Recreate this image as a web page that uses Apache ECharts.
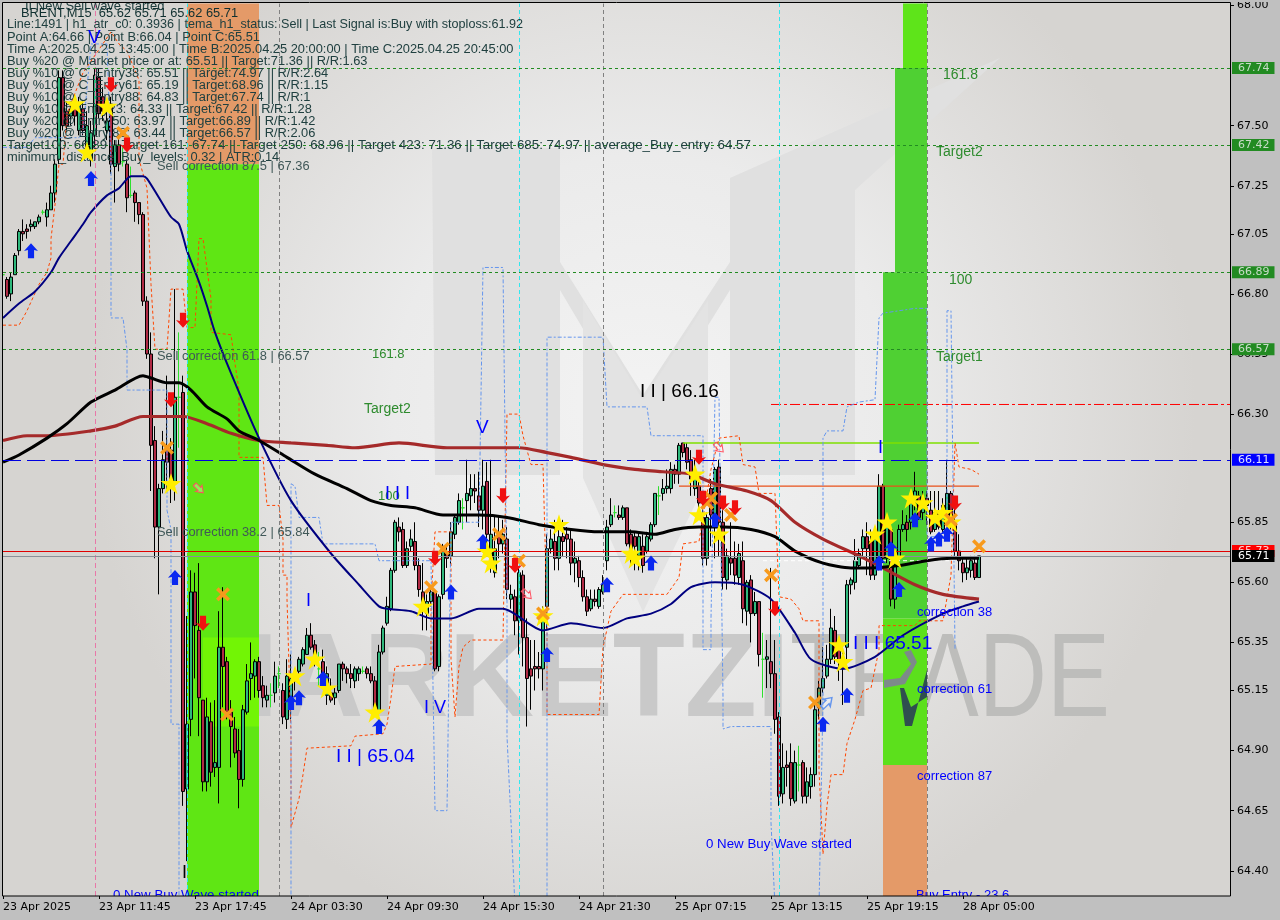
<!DOCTYPE html>
<html><head><meta charset="utf-8"><style>html,body{margin:0;padding:0;background:#c0c0c0}#c{width:1280px;height:920px}</style>
<script src="https://cdn.jsdelivr.net/npm/echarts@6/dist/echarts.min.js"></script></head><body><div id="c"></div>
<script>
const tickLabels=['23 Apr 2025','23 Apr 11:45','23 Apr 17:45','24 Apr 03:30','24 Apr 09:30','24 Apr 15:30','24 Apr 21:30','25 Apr 07:15','25 Apr 13:15','25 Apr 19:15','28 Apr 05:00'];
const priceTicks=[68.00,67.50,67.25,67.05,66.80,66.55,66.30,65.85,65.60,65.35,65.15,64.90,64.65,64.40];
// [open, close, low, high]
const candles=[
[66.88,66.88,66.87,66.91],[66.86,66.79,66.78,66.87],[66.80,66.87,66.77,66.89],[66.88,66.96,66.88,66.97],[66.98,67.06,66.96,67.07],
[67.06,67.05,67.02,67.11],[67.07,67.06,67.03,67.09],[67.08,67.09,67.06,67.11],[67.08,67.10,67.07,67.10],[67.10,67.12,67.09,67.13],
[67.14,67.14,67.13,67.15],[67.12,67.15,67.08,67.18],[67.15,67.22,67.15,67.25],[67.22,67.34,67.18,67.36],[67.36,67.70,67.34,67.73],
[67.70,67.50,67.48,67.73],[67.56,67.50,67.48,67.60],[67.54,67.57,67.50,67.60],[67.60,67.54,67.50,67.63],[67.48,67.59,67.46,67.62],
[67.57,67.48,67.46,67.60],[67.40,67.50,67.37,67.56],[67.36,67.47,67.33,67.52],[67.46,67.71,67.41,67.74],[67.70,67.55,67.53,67.74],
[67.62,67.56,67.52,67.66],[67.48,67.52,67.44,67.56],[67.59,67.34,67.30,67.62],[67.33,67.42,67.18,67.44],[67.42,67.34,67.31,67.46],
[67.35,67.35,67.33,67.41],[67.34,67.20,67.14,67.36],[67.21,67.21,67.20,67.33],[67.22,67.18,67.10,67.23],[67.18,67.13,67.09,67.18],
[67.13,66.77,66.75,67.14],[66.77,66.55,66.53,66.79],[66.55,66.17,65.98,66.64],[66.19,65.83,65.70,66.25],[65.83,65.99,65.55,66.01],
[65.99,66.11,65.97,66.23],[66.15,66.10,65.98,66.46],[66.15,66.00,65.93,66.20],[66.02,66.37,65.94,66.82],[66.37,66.37,66.16,66.64],
[66.39,64.73,64.67,66.46],[64.74,65.01,64.44,65.46],[65.03,65.56,64.96,65.65],[65.56,65.42,65.20,65.64],[65.40,65.12,64.96,65.68],
[65.11,64.77,64.73,65.11],[64.77,65.04,64.73,65.12],[65.02,64.81,64.75,65.10],[64.83,64.85,64.79,65.11],[64.83,65.33,64.68,65.48],
[65.33,65.25,65.08,65.58],[65.27,65.06,65.03,65.29],[65.06,65.00,64.83,65.11],[64.99,64.89,64.87,65.04],[64.90,64.78,64.66,64.99],
[64.78,65.07,64.75,65.09],[65.06,65.19,65.05,65.26],[65.20,65.22,65.11,65.35],[65.21,65.27,65.12,65.28],[65.27,65.15,65.12,65.29],
[65.17,65.12,65.08,65.21],[65.11,65.13,65.08,65.17],[65.13,65.13,65.08,65.18],[65.14,65.21,65.10,65.27],[65.22,65.22,65.16,65.25],
[65.15,65.04,65.01,65.18],[65.03,65.21,64.99,65.28],[65.09,65.20,65.03,65.30],[65.19,65.21,65.15,65.24],[65.23,65.28,65.20,65.29],
[65.26,65.32,65.25,65.33],[65.30,65.38,65.30,65.41],[65.38,65.33,65.32,65.43],[65.34,65.29,65.25,65.36],[65.24,65.24,65.17,65.31],
[65.27,65.22,65.17,65.32],[65.13,65.22,65.09,65.25],[65.14,65.11,65.10,65.20],[65.12,65.14,65.09,65.16],[65.15,65.26,65.14,65.26],
[65.26,65.24,65.19,65.27],[65.24,65.22,65.18,65.25],[65.22,65.20,65.16,65.26],[65.19,65.24,65.16,65.25],[65.22,65.24,65.19,65.25],
[65.23,65.23,65.22,65.25],[65.24,65.22,65.20,65.25],[65.22,65.19,65.18,65.25],[65.19,65.07,65.05,65.21],[65.06,65.31,65.03,65.34],
[65.31,65.41,65.30,65.42],[65.43,65.50,65.42,65.54],[65.49,65.65,65.48,65.66],[65.65,65.85,65.64,65.86],[65.83,65.81,65.77,65.87],
[65.82,65.67,65.66,65.85],[65.67,65.74,65.66,65.77],[65.75,65.78,65.73,65.82],[65.77,65.67,65.65,65.85],[65.67,65.57,65.54,65.70],
[65.56,65.51,65.40,65.68],[65.47,65.52,65.40,65.55],[65.52,65.56,65.50,65.58],[65.56,65.24,65.23,65.57],[65.25,65.54,65.23,65.55],
[65.55,65.75,65.53,65.76],[65.72,65.70,65.66,65.75],[65.71,65.81,65.67,65.85],[65.80,65.87,65.78,65.88],[65.85,65.94,65.84,65.97],
[65.91,65.91,65.82,65.95],[65.94,65.97,65.85,66.11],[65.96,65.99,65.90,66.05],[65.99,65.98,65.93,66.05],[65.96,65.90,65.83,66.06],
[65.90,66.00,65.82,66.11],[66.02,65.80,65.75,66.10],[65.70,65.80,65.64,66.11],[65.64,65.74,65.62,65.88],[65.80,65.76,65.70,65.88],
[65.76,65.80,65.72,65.86],[65.78,65.57,65.53,65.83],[65.53,65.55,65.49,65.59],[65.54,65.44,65.38,65.57],[65.44,65.64,65.30,65.66],
[65.63,65.37,65.25,65.65],[65.37,65.20,65.00,65.45],[65.24,65.21,65.07,65.36],[65.25,65.24,65.15,65.36],[65.25,65.24,65.20,65.31],
[65.24,65.45,65.15,65.50],[65.50,65.74,65.40,65.80],[65.74,65.78,65.72,65.82],[65.77,65.70,65.65,65.86],[65.70,65.79,65.65,65.84],
[65.79,65.77,65.71,65.86],[65.80,65.78,65.70,65.83],[65.78,65.68,65.63,65.82],[65.68,65.70,65.60,65.77],[65.69,65.62,65.58,65.71],
[65.62,65.54,65.52,65.65],[65.54,65.48,65.46,65.57],[65.49,65.53,65.48,65.57],[65.53,65.52,65.50,65.57],[65.50,65.57,65.49,65.58],
[65.56,65.59,65.55,65.63],[65.69,65.83,65.65,65.86],[65.84,65.88,65.83,65.95],[65.89,65.89,65.87,65.92],[65.88,65.87,65.86,65.92],
[65.87,65.91,65.86,65.92],[65.91,65.76,65.75,65.91],[65.80,65.73,65.67,65.82],[65.79,65.75,65.65,65.81],[65.71,65.79,65.65,65.81],
[65.75,65.67,65.64,65.80],[65.73,65.79,65.72,65.81],[65.78,65.84,65.77,65.85],[65.84,65.97,65.83,65.97],[65.96,65.96,65.88,66.00],
[65.97,65.99,65.94,66.03],[65.99,66.00,65.97,66.07],[65.99,66.07,65.97,66.10],[66.07,66.05,66.01,66.09],[66.05,66.17,66.01,66.18],
[66.18,66.14,66.12,66.18],[66.16,66.10,66.07,66.18],[66.11,66.03,65.96,66.15],[65.99,66.05,65.96,66.11],[66.00,65.93,65.88,66.05],
[65.87,65.70,65.67,65.94],[65.70,65.87,65.67,65.89],[65.99,65.88,65.75,66.03],[65.88,66.07,65.70,66.08],[66.08,65.85,65.71,66.11],
[65.85,65.62,65.57,65.90],[65.61,65.71,65.57,65.74],[65.70,65.68,65.63,65.85],[65.70,65.63,65.59,65.77],[65.62,65.72,65.59,65.76],
[65.69,65.49,65.43,65.77],[65.48,65.60,65.42,65.61],[65.61,65.47,65.35,65.63],[65.47,65.52,65.46,65.56],[65.52,65.30,65.25,65.52],
[65.28,65.28,65.12,65.39],[65.28,65.29,65.16,65.36],[65.27,65.22,65.16,65.66],[65.22,65.03,64.97,65.36],[65.04,64.71,64.67,65.06],
[64.72,64.83,64.68,64.93],[64.84,64.83,64.75,64.90],[64.85,64.70,64.67,64.93],[64.69,64.85,64.68,64.90],[64.84,64.84,64.73,64.92],
[64.85,64.71,64.68,64.86],[64.71,64.77,64.68,64.83],[64.75,64.80,64.70,64.83],[64.80,65.07,64.75,65.09],[65.08,65.16,65.03,65.19],
[65.16,65.20,65.14,65.33],[65.21,65.28,65.20,65.34],[65.28,65.41,65.26,65.49],[65.40,65.29,65.26,65.46],[65.32,65.27,65.19,65.37],
[65.28,65.24,65.09,65.32],[65.33,65.59,65.25,65.61],[65.59,65.61,65.55,65.62],[65.60,65.69,65.57,65.78],[65.67,65.72,65.66,65.74],
[65.74,65.79,65.71,65.82],[65.79,65.74,65.63,65.85],[65.77,65.63,65.61,65.82],[65.63,65.78,65.61,65.82],[65.66,66.00,65.65,66.05],
[66.00,65.70,65.68,66.01],[65.70,65.84,65.68,65.88],[65.82,65.53,65.50,65.84],[65.53,65.67,65.49,65.69],[65.70,65.82,65.69,65.84],
[65.82,65.84,65.81,65.90],[65.85,65.82,65.77,65.88],[65.85,65.93,65.82,65.96],[65.93,65.98,65.90,66.06],[65.96,65.87,65.86,65.98],
[65.89,65.95,65.86,65.98],[65.95,65.92,65.84,65.98],[65.90,65.81,65.80,65.98],[65.82,65.89,65.81,65.98],[65.89,65.83,65.82,65.98],
[65.82,65.92,65.81,65.95],[65.86,65.97,65.84,66.11],[65.97,65.85,65.82,65.98],[65.85,65.73,65.70,65.94],[65.73,65.69,65.65,65.80],
[65.68,65.64,65.60,65.70],[65.64,65.66,65.61,65.70],[65.65,65.69,65.62,65.71],[65.68,65.62,65.61,65.71],[65.62,65.71,65.62,65.71]];
const navyLine=[[0,66.70],[4,66.76],[8,66.81],[12,66.89],[14,66.95],[17,67.02],[20,67.09],[22,67.14],[26,67.21],[29,67.24],[32,67.29],[35,67.29],[36,67.28],[39,67.20],[42,67.12],[44,67.09],[46,66.98],[49,66.85],[51,66.75],[53,66.64],[57,66.47],[64,66.20],[72,65.94],[82,65.72],[89,65.59],[94,65.50],[96,65.49],[102,65.48],[107,65.45],[112,65.45],[119,65.49],[125,65.49],[135,65.40],[142,65.43],[150,65.41],[156,65.45],[162,65.47],[167,65.51],[172,65.58],[178,65.60],[185,65.59],[192,65.53],[198,65.39],[202,65.28],[210,65.24],[218,65.29],[225,65.38],[235,65.47],[240,65.50],[244,65.52]];
const blackLine=[[0,66.10],[4,66.13],[11,66.20],[16,66.26],[22,66.35],[28,66.40],[35,66.46],[37,66.45],[41,66.43],[44,66.43],[47,66.40],[51,66.33],[56,66.28],[59,66.23],[64,66.19],[71,66.12],[78,66.05],[86,65.99],[92,65.94],[97,65.92],[103,65.91],[110,65.88],[119,65.88],[126,65.87],[134,65.84],[142,65.82],[149,65.81],[157,65.81],[163,65.80],[168,65.82],[174,65.83],[180,65.83],[187,65.82],[193,65.79],[198,65.73],[205,65.68],[212,65.66],[217,65.66],[224,65.67],[231,65.69],[237,65.70],[244,65.70]];
const brownLine=[[0,66.19],[6,66.21],[11,66.21],[22,66.23],[28,66.25],[35,66.29],[45,66.29],[51,66.26],[57,66.22],[64,66.19],[72,66.18],[81,66.17],[88,66.16],[99,66.18],[111,66.16],[126,66.16],[129,66.16],[136,66.14],[142,66.12],[150,66.09],[158,66.07],[165,66.06],[172,66.05],[178,66.01],[186,65.98],[192,65.94],[198,65.85],[205,65.78],[214,65.71],[220,65.66],[228,65.59],[235,65.55],[244,65.53]];
const orangeStops=[[0,66.67],[4,66.67],[6,66.73],[9,66.84],[11,66.89],[12,66.95],[12,67.03],[13,67.17],[14,67.34],[15,67.34],[16,67.55],[20,67.72],[27,67.89],[29,67.84],[31,67.81],[34,67.69],[34,67.36],[36,67.24],[37,66.84],[38,66.57],[41,66.57],[42,66.82],[45,66.82],[46,66.66],[48,66.66],[49,67.03],[50,67.03],[52,66.78],[52,66.64],[57,66.63],[58,66.51],[59,66.40],[59,66.12],[65,66.12],[66,65.92],[69,65.92],[70,65.78],[70,65.63],[71,65.63],[71,65.53],[72,64.97],[72,64.58],[74,64.70],[75,64.80],[76,64.91],[87,64.92],[88,64.96],[95,64.97],[96,65.01],[97,65.12],[98,65.25],[107,65.26],[107,65.52],[108,65.81],[112,65.81],[112,65.64],[112,65.28],[113,65.04],[114,65.25],[115,65.33],[117,65.36],[125,65.36],[126,66.30],[129,66.30],[130,66.21],[132,66.09],[135,66.09],[136,65.47],[136,65.05],[149,65.05],[150,65.33],[152,65.48],[155,65.55],[166,65.55],[169,65.62],[170,65.76],[174,65.77],[177,66.07],[179,66.20],[184,66.21],[185,66.09],[188,66.08],[189,65.97],[193,65.97],[194,65.54],[197,65.53],[199,65.49],[200,65.44],[204,65.44],[204,64.82],[205,64.47],[206,64.67],[207,64.80],[210,64.80],[211,64.93],[213,65.03],[215,65.15],[217,65.16],[219,65.32],[219,65.42],[228,65.42],[229,65.44],[235,65.44],[237,65.63],[238,66.18],[239,66.08],[242,66.07],[244,66.05]];
const blueStops=[[0,67.41],[6,67.41],[8,67.45],[14,67.45],[19,67.45],[20,67.47],[22,67.84],[26,67.84],[27,67.34],[27,66.70],[30,66.70],[31,66.57],[31,66.40],[41,66.40],[41,65.90],[42,65.82],[42,65.01],[44,65.01],[44,64.25],[72,64.25],[72,65.53],[72,65.94],[72,66.01],[73,66.00],[74,65.87],[79,65.87],[80,65.76],[93,65.76],[94,65.69],[107,65.69],[108,64.65],[111,64.65],[112,65.84],[112,65.85],[119,65.85],[120,66.91],[125,66.91],[126,65.53],[126,64.96],[128,64.25],[136,64.25],[136,66.62],[150,66.62],[151,66.33],[161,66.33],[162,66.21],[175,66.21],[175,65.32],[177,65.32],[177,65.45],[178,66.37],[179,66.37],[180,65.12],[180,64.99],[182,65.00],[192,65.00],[192,64.60],[193,64.25],[204,64.25],[205,65.11],[205,66.20],[206,66.23],[210,66.23],[211,66.33],[214,66.35],[218,66.36],[219,66.70],[220,66.72],[228,66.74],[231,66.74],[231,65.79],[236,65.79],[236,66.73],[237,66.73],[238,65.32]];
const greenLevels=[67.74,67.42,66.89,66.57];
const blueLevel=66.11, askLevel=65.73, bidLevel=65.71;
const limeSegment=[[170,66.18],[244,66.18]], orangeSegment=[[169,66.00],[244,66.00]], whiteSegment=[[190,65.69],[238,65.69]], redSegment=[[192,66.34],[307,66.34]];
const upArrows=[[7,66.98],[22,67.28],[43,65.62],[72,65.10],[74,65.12],[80,65.20],[94,65.00],[112,65.56],[120,65.77],[136,65.30],[151,65.59],[162,65.68],[178,65.86],[205,65.01],[211,65.13],[219,65.68],[222,65.74],[224,65.57],[228,65.86],[232,65.76],[234,65.78],[236,65.80]];
const downArrows=[[27,67.67],[31,67.42],[45,66.69],[42,66.36],[50,65.43],[108,65.70],[125,65.96],[128,65.67],[174,66.12],[175,65.95],[180,65.93],[183,65.91],[193,65.49],[238,65.93]];
const stars=[[18,67.59],[26,67.58],[21,67.39],[42,66.01],[73,65.21],[78,65.28],[81,65.16],[93,65.06],[105,65.50],[121,65.73],[122,65.68],[139,65.84],[157,65.72],[158,65.70],[173,66.05],[174,65.88],[179,65.80],[135,65.46],[209,65.34],[210,65.27],[218,65.80],[221,65.85],[223,65.70],[227,65.95],[230,65.93],[233,65.87],[235,65.89],[237,65.85]];
const crosses=[[30,67.47],[41,66.16],[55,65.55],[56,65.05],[107,65.58],[110,65.74],[124,65.80],[129,65.69],[135,65.47],[176,65.93],[177,65.95],[182,65.88],[192,65.63],[203,65.10],[237,65.86],[244,65.75]];
const hollowSell=[[49,65.99],[131,65.55],[179,66.16]], hollowBuy=[[206,65.10]];
const infoLines=['Line:1491 | h1_atr_c0: 0.3936 | tema_h1_status: Sell | Last Signal is:Buy with stoploss:61.92','Point A:64.66 | Point B:66.04 | Point C:65.51','Time A:2025.04.25 13:45:00 | Time B:2025.04.25 20:00:00 | Time C:2025.04.25 20:45:00','Buy %20 @ Market price or at: 65.51 || Target:71.36 || R/R:1.63','Buy %10 @ C_Entry38: 65.51 || Target:74.97 || R/R:2.64','Buy %10 @ C_Entry61: 65.19 || Target:68.96 || R/R:1.15','Buy %10 @ C_Entry88: 64.83 || Target:67.74 || R/R:1','Buy %10 @ Entry23: 64.33 || Target:67.42 || R/R:1.28','Buy %20 @ Entry 50: 63.97 || Target:66.89 || R/R:1.42','Buy %20 @ Entry 88: 63.44 || Target:66.57 || R/R:2.06','Target100: 66.89 || Target 161: 67.74 || Target 250: 68.96 || Target 423: 71.36 || Target 685: 74.97 || average_Buy_entry: 64.57','minimum_distance_Buy_levels: 0.32 | ATR:0.14'];

const UI='"Liberation Sans"',TICK='"DejaVu Sans"';
const categories=Array.from({length:308},(_,i)=>i%24===0&&tickLabels[i/24]?tickLabels[i/24]:'');
const GREEN='#228b22',DASH='#ff4500',CB='#6495ed';
const P={up:'path://M50 0 L100 52 L72 46 L72 100 L28 100 L28 46 L0 52 Z',
 down:'path://M28 0 L72 0 L72 54 L100 48 L50 100 L0 48 L28 54 Z',
 x:'path://M18 0 L50 32 L82 0 L100 18 L68 50 L100 82 L82 100 L50 68 L18 100 L0 82 L32 50 L0 18 Z'};
function txt(s,x,y,size,fill){return {type:'text',z:6,silent:true,style:{text:s,x,y,fill,font:size+'px '+UI,verticalAlign:'middle'}}}
function poly(pts,fill,z){return {type:'polygon',z:z||1,silent:true,shape:{points:pts},style:{fill}}}
const graphics=[
 {type:'rect',z:-2,silent:true,shape:{x:3,y:2,width:1228,height:894},style:{fill:{type:'radial',x:0.52,y:0.45,r:0.62,colorStops:[{offset:0,color:'#f3f3f3'},{offset:0.45,color:'#ebebeb'},{offset:1,color:'#d6d4d1'}]}}},
 poly([[432,148],[560,148],[560,262],[643,395],[730,262],[730,178],[1000,58],[855,190],[855,475],[730,475],[730,290],[643,430],[560,290],[560,475],[435,475]],'#e0e0e0',-1),
 poly([[583,300],[643,400],[708,300],[708,478],[643,612],[583,478]],'#e3e3e3',-1),
 {type:'text',z:-1,silent:true,style:{text:'MARKETZI',x:180,y:683,fill:'#c9c9c9',font:'bold 118px '+UI,verticalAlign:'middle'}},
 {type:'text',z:-1,silent:true,scaleX:0.8,x:790,y:683,style:{text:'TRADE',x:0,y:0,fill:'#bdbdbb',font:'118px '+UI,verticalAlign:'middle'}},
 poly([[900,688],[905,726],[912,726],[927,670],[927,697],[911,707],[904,688]],'#2f4f4f',2),
 poly([[884,680],[900,678],[911,664],[904,652],[911,650],[917,662],[905,684],[884,688]],'#7d8a8a',2),
 txt('II New Sell wave started',25,6,13,'#204040'),
 txt('BRENT,M15  65.62 65.71 65.62 65.71',21,13,12.85,'#103030'),
 ...infoLines.map((s,k)=>txt(s,7,25+k*12,k===10?13.35:k===0?12.6:12.85,'#204040')),
 txt('Sell correction 87.5 | 67.36',157,166,12.85,'#405858'),
 txt('Sell correction 61.8 | 66.57',157,356,12.85,'#405858'),
 txt('Sell correction 38.2 | 65.84',157,532,12.85,'#405858'),
 txt('161.8',372,354,13,'#2e8b2e'),txt('Target2',364,409,14,'#2e8b2e'),txt('100',378,496,13,'#2e8b2e'),
 txt('161.8',943,75,14,'#2e8b2e'),txt('Target2',936,152,14,'#2e8b2e'),txt('100',949,280,14,'#2e8b2e'),txt('Target1',936,357,14,'#2e8b2e'),
 txt('I I I',385,494,18,'#0000ff'),txt('I I | 66.16',640,392,19,'#000'),txt('V',476,428,19,'#0000ff'),txt('V',88,38,19,'#0000ff'),
 txt('I',306,601,18,'#0000ff'),txt('I V',424,708,18,'#0000ff'),txt('I I | 65.04',336,757,19,'#0000ff'),txt('I I I 65.51',853,644,19,'#0000ff'),
 txt('I',878,448,18,'#0000ff'),txt('I',182,873,18,'#000'),
 txt('0 New Buy Wave started',113,895,13.3,'#0000ff'),txt('0 New Buy Wave started',706,844,13.3,'#0000ff'),txt('Buy Entry - 23.6',916,895,13,'#0000ff'),
 txt('correction 38',917,612,13,'#0000ff'),txt('correction 61',917,689,13,'#0000ff'),txt('correction 87',917,776,13,'#0000ff'),
 {type:'rect',z:9,silent:true,shape:{x:0,y:896,width:1280,height:24},style:{fill:'#c0c0c0'}},
 {type:'rect',z:9,silent:true,shape:{x:0,y:0,width:1280,height:2},style:{fill:'#c0c0c0'}},
 {type:'rect',z:9,silent:true,shape:{x:0,y:0,width:3,height:920},style:{fill:'#c0c0c0'}},
 {type:'rect',z:10,silent:true,shape:{x:2.5,y:2.5,width:1228,height:893.5},style:{fill:'none',stroke:'#000',lineWidth:1}}
];
const dashLine=(name,data,color,width,type,z,smooth)=>({name,type:'line',data,z:z||4,symbol:'none',smooth:smooth||false,animation:false,silent:true,lineStyle:{color,width,type}});
const lvlLabel=(bg,fg)=>({show:true,position:'end',distance:1,backgroundColor:bg,color:fg||'#d8e4d8',padding:[1,5,0,6],fontFamily:TICK,fontSize:11,formatter:p=>p.value.toFixed(2)});
const option={
 animation:false,backgroundColor:'#c0c0c0',graphic:graphics,
 grid:{left:3,right:49,top:2,height:894,containLabel:false},
 xAxis:{type:'category',data:categories,boundaryGap:false,z:11,axisLine:{show:false},splitLine:{show:false},
  axisTick:{show:true,length:3,lineStyle:{color:'#000'},interval:i=>i%24===0&&!!categories[i]},
  axisLabel:{show:true,interval:i=>i%24===0&&!!categories[i],hideOverlap:false,align:'left',margin:6,color:'#000',fontFamily:TICK,fontSize:11}},
 yAxis:{type:'value',position:'right',min:64.295,max:68.008,scale:true,z:2,splitLine:{show:false},axisLine:{show:false},
  axisTick:{show:true,length:3,lineStyle:{color:'#000'},customValues:priceTicks},
  axisLabel:{show:true,color:'#000',margin:6,fontFamily:TICK,fontSize:11,customValues:priceTicks,formatter:v=>v.toFixed(2)}},
 series:[
  {name:'zones',type:'line',data:[],z:1,markArea:{silent:true,z:1,data:[
    [{xAxis:46,yAxis:68.008,itemStyle:{color:'#e49a68'}},{xAxis:64,yAxis:67.34}],
    [{xAxis:46,yAxis:67.34,itemStyle:{color:'#5fe614'}},{xAxis:64,yAxis:64.295}],
    [{xAxis:50,yAxis:65.37,itemStyle:{color:'#72f505'}},{xAxis:64,yAxis:65.0}],
    [{xAxis:225,yAxis:68.008,itemStyle:{color:'#5ee41a'}},{xAxis:231,yAxis:67.74}],
    [{xAxis:223,yAxis:67.74,itemStyle:{color:'#4fd033'}},{xAxis:231,yAxis:66.89}],
    [{xAxis:220,yAxis:66.89,itemStyle:{color:'#4fd033'}},{xAxis:231,yAxis:65.45}],
    [{xAxis:220,yAxis:65.45,itemStyle:{color:'#5ce01c'}},{xAxis:231,yAxis:64.84}],
    [{xAxis:220,yAxis:64.84,itemStyle:{color:'#e49a68'}},{xAxis:231,yAxis:64.295}]
  ]}},
  {name:'verticals',type:'line',data:[],z:2,markLine:{silent:true,symbol:'none',animation:false,label:{show:false},data:[
    {xAxis:23,lineStyle:{color:'#e878a8',type:[5,3],width:1}},
    {xAxis:46,lineStyle:{color:'#30e8f0',type:[4,3],width:1}},
    {xAxis:129,lineStyle:{color:'#30e8f0',type:[4,3],width:1}},
    {xAxis:194,lineStyle:{color:'#30e8f0',type:[4,3],width:1}},
    {xAxis:69,lineStyle:{color:'#808080',type:[4,3],width:1}},
    {xAxis:150,lineStyle:{color:'#808080',type:[4,3],width:1}},
    {xAxis:231,lineStyle:{color:'#808080',type:[4,3],width:1}}
  ]}},
  {name:'levels',type:'line',data:[],z:3,markLine:{silent:true,symbol:'none',animation:false,data:[
    ...greenLevels.map(v=>({yAxis:v,lineStyle:{color:GREEN,type:[3,3],width:1},label:lvlLabel(GREEN,'#c8dcc8')})),
    {yAxis:blueLevel,lineStyle:{color:'#0000e0',type:[18,6],width:1},label:lvlLabel('#0000ff','#e0e0ff')},
    {yAxis:askLevel,lineStyle:{color:'#e00000',type:'solid',width:1},label:lvlLabel('#ff0000','#ffd0d0')},
    {yAxis:bidLevel,lineStyle:{color:'#8a9098',type:'solid',width:1},label:lvlLabel('#000','#fff')}
  ]}},
  {name:'candles',type:'candlestick',data:candles,z:3,barWidth:4,animation:false,silent:true,
   itemStyle:{color:'#2fb87c',color0:'#b02a44',borderColor:'#000',borderColor0:'#000',borderColorDoji:'#2ee02e',borderWidth:1}},
  dashLine('redStop',redSegment,'#ff0000',1,[10,3,3,3]),
  dashLine('lime',limeSegment,'#7fe000',1.5,'solid'),
  dashLine('orangeSeg',orangeSegment,'#e8501a',1.2,'solid'),
  dashLine('whiteSeg',whiteSegment,'#ffffff',1,[4,3]),
  dashLine('stopSell',orangeStops,DASH,1,[3,2.5]),
  dashLine('stopBuy',blueStops,CB,1,[4,2,2,2]),
  dashLine('emaFast',navyLine,'#000080',2,'solid',4,0.25),
  dashLine('emaSlow',brownLine,'#a52a2a',3.2,'solid',4,0.25),
  dashLine('emaMid',blackLine,'#000000',3,'solid',4,0.25),
  {name:'stars',type:'scatter',data:stars,z:6,symbol:'path://M50 0 L62 36 L100 36 L69 59 L81 97 L50 73 L19 97 L31 59 L0 36 L38 36 Z',symbolSize:21,itemStyle:{color:'#ffee00',opacity:1},silent:true},
  {name:'crosses',type:'scatter',data:crosses,z:6,symbol:P.x,symbolSize:14,itemStyle:{color:'#f79a1c',opacity:1},silent:true},
  {name:'up',type:'scatter',data:upArrows,z:6,symbol:P.up,symbolSize:[14,15],itemStyle:{color:'#0a28f0',opacity:1},silent:true},
  {name:'down',type:'scatter',data:downArrows,z:6,symbol:P.down,symbolSize:[14,15],itemStyle:{color:'#f01010',opacity:1},silent:true},
  {name:'hollowS',type:'scatter',data:hollowSell,z:6,symbol:P.down,symbolSize:[9,12],symbolRotate:45,itemStyle:{color:'rgba(255,255,255,0.3)',borderColor:'#ff5060',borderWidth:1,opacity:1},silent:true},
  {name:'hollowB',type:'scatter',data:hollowBuy,z:6,symbol:P.up,symbolSize:[10,14],symbolRotate:-45,itemStyle:{color:'rgba(255,255,255,0.3)',borderColor:'#6495ed',borderWidth:1.5,opacity:1},silent:true}
 ]};
echarts.init(document.getElementById('c')).setOption(option);
</script></body></html>
